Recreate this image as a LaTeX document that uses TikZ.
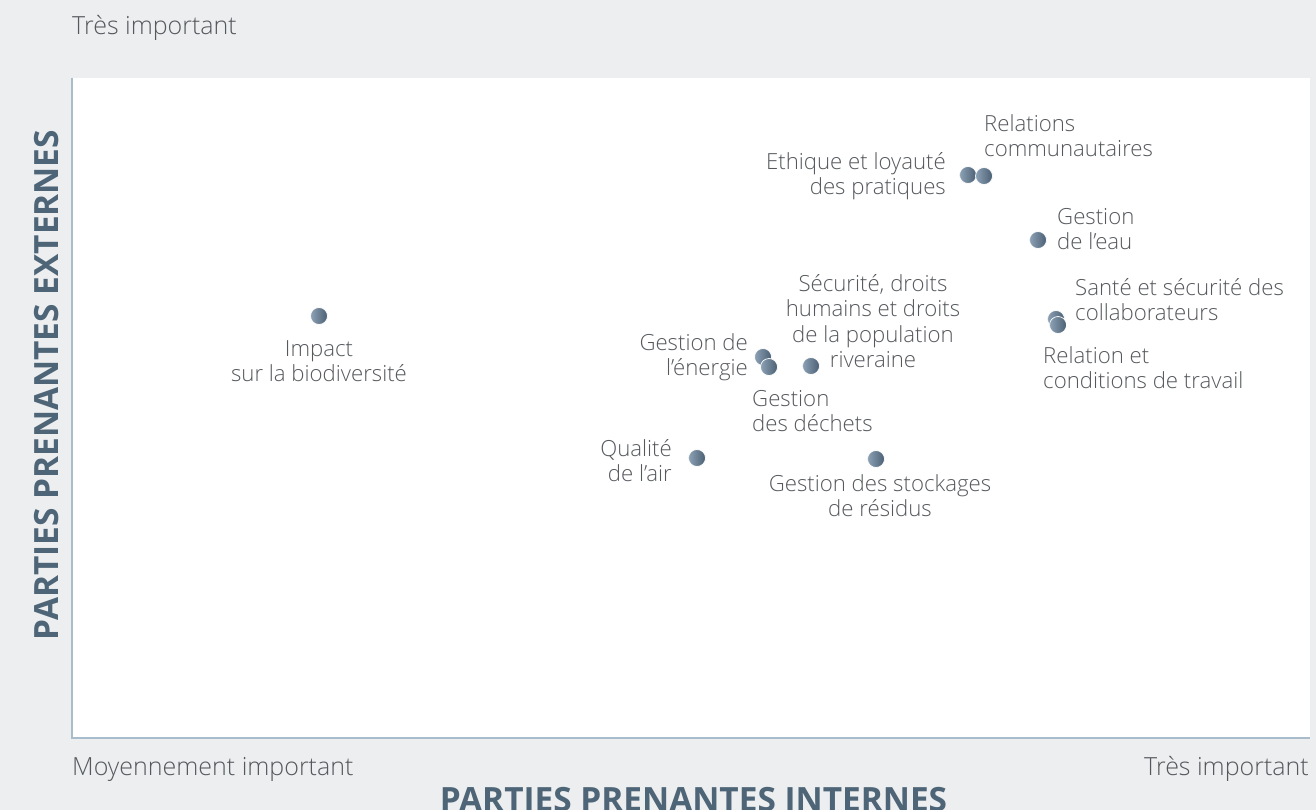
\documentclass[tikz,border=0pt]{standalone}
\usepackage{fontspec}
\setmainfont{Open Sans}[UprightFont={* Light}, BoldFont={* Bold}]
\definecolor{bgc}{HTML}{EDEEF0}
\definecolor{axisc}{HTML}{A8BCCC}
\definecolor{txtc}{HTML}{55595D}
\definecolor{headc}{HTML}{4D6577}
\definecolor{dotl}{HTML}{8DA2B5}
\definecolor{dotr}{HTML}{4A5F73}
\begin{document}
\begin{tikzpicture}[x=1pt,y=-1pt,
  lbl/.style={inner sep=0pt, text=txtc, font=\fontsize{22.2}{25.5}\selectfont},
  axl/.style={inner sep=0pt, text=txtc, font=\fontsize{25}{28}\selectfont},
  dot/.style={circle, minimum size=17pt, inner sep=0pt, draw=white, line width=0.7pt, left color=dotl, right color=dotr},
  head/.style={inner sep=0pt, text=headc, font=\fontsize{33.4}{34}\selectfont\bfseries}]
\useasboundingbox (0,0) rectangle (1316,810);
\fill[bgc] (0,0) rectangle (1316,810);
\fill[white] (72,78) rectangle (1310,738);
\draw[axisc, line width=2pt] (72,78) -- (72,738) -- (1310,738);

% axis texts
\node[axl, anchor=base west] (ttop) at (72,35) {Très important};
\node[axl, anchor=base west] (tmoy) at (72,775) {Moyennement important};
\node[axl, anchor=base east] (tright) at (1309,775) {Très important};
\node[head, anchor=base] (hint) at (693.5,811) {PARTIES PRENANTES INTERNES};
\node[head, anchor=base, rotate=90] (hext) at (58,385) {PARTIES PRENANTES EXTERNES};

% dots
\node[dot] (dimp) at (319,316) {};
\node[dot] (deth) at (968,175) {};
\node[dot] (drel) at (984,176) {};
\node[dot] (deau) at (1038,240) {};
\node[dot] (dsan) at (1056,319) {};
\node[dot] (dtra) at (1058,325) {};
\node[dot] (dene) at (763,357) {};
\node[dot] (ddec) at (769,367) {};
\node[dot] (dsec) at (811,366) {};
\node[dot] (dair) at (697,458) {};
\node[dot] (dsto) at (876,459) {};

% labels
\node[lbl, anchor=north, align=center] (limp) at (319,338) {\strut Impact\\\strut sur la biodiversité};
\node[lbl, anchor=north east, align=right] (leth) at (946,151) {\strut Ethique et loyauté\\\strut des pratiques};
\node[lbl, anchor=north west, align=left] (lrel) at (984,113) {\strut Relations\\\strut communautaires};
\node[lbl, anchor=north west, align=left] (leau) at (1057,206) {\strut Gestion\\\strut de l’eau};
\node[lbl, anchor=north west, align=left] (lsan) at (1075,277) {\strut Santé et sécurité des\\\strut collaborateurs};
\node[lbl, anchor=north west, align=left] (ltra) at (1043,345) {\strut Relation et\\\strut conditions de travail};
\node[lbl, anchor=north, align=center] (lsec) at (873,273) {\strut Sécurité, droits\\\strut humains et droits\\\strut de la population\\\strut riveraine};
\node[lbl, anchor=north east, align=right] (lene) at (748,332) {\strut Gestion de\\\strut l’énergie};
\node[lbl, anchor=north west, align=left] (ldec) at (752,388) {\strut Gestion\\\strut des déchets};
\node[lbl, anchor=north east, align=right] (lair) at (672,438) {\strut Qualité\\\strut de l’air};
\node[lbl, anchor=north, align=center] (lsto) at (880,473) {\strut Gestion des stockages\\\strut de résidus};
\end{tikzpicture}
\end{document}
